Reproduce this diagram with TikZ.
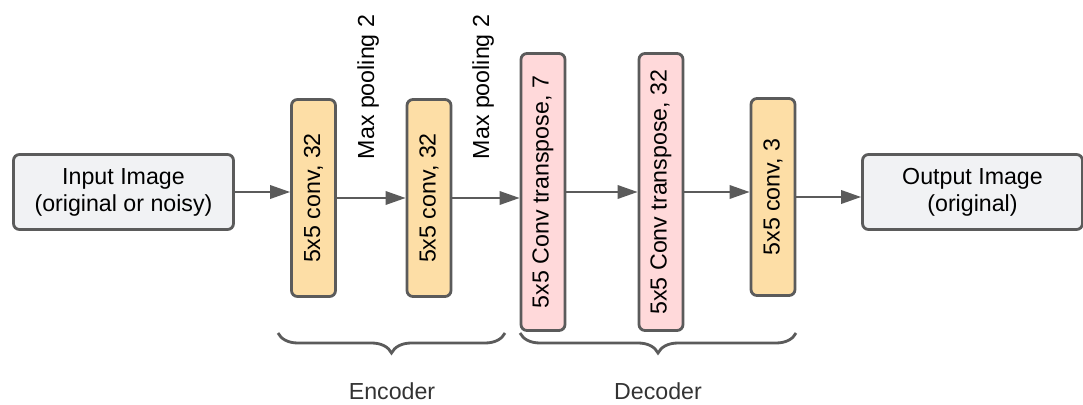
\documentclass[tikz,border=0pt]{standalone}
\usepackage{fontspec}
\setmainfont{Liberation Sans}
\usetikzlibrary{positioning,arrows.meta}
\usetikzlibrary{decorations.pathreplacing}
\usepackage{xcolor}
\definecolor{boxgray}{HTML}{F1F2F4}
\definecolor{edgegray}{HTML}{5B5B5B}
\definecolor{convorange}{HTML}{FDDEA6}
\definecolor{transpink}{HTML}{FFD9DA}

\begin{document}
\begin{tikzpicture}
	\useasboundingbox (0,0) rectangle (21.66,8.08);
	\tikzstyle{every node}=[font=\fontsize{13.2}{15.4}\selectfont]
	\tikzstyle{imgbox}=[draw=edgegray, line width=1.6pt, rounded corners=0.12cm, fill=boxgray, align=center, minimum width=4.4cm, minimum height=1.5cm]
	\tikzstyle{conv}=[draw=edgegray, line width=1.6pt, rounded corners=0.12cm, fill=convorange, minimum width=0.88cm, minimum height=3.94cm]
	\tikzstyle{convt}=[conv, fill=transpink, minimum height=5.54cm]
	\tikzstyle{flow}=[draw=edgegray, line width=1.1pt, -{Triangle[length=0.4cm,width=0.27cm]}]
	\tikzstyle{curly}=[draw=edgegray, line width=1.6pt, decorate, decoration={brace, mirror, amplitude=0.4cm}]
	% layers, left to right
	\draw (2.47,4.24) node (input) [imgbox] {Input Image\\(original or noisy)};
	\draw (6.27,4.12) node (c1) [conv] {\rotatebox{90}{5x5 conv, 32}};
	\draw (8.58,4.12) node (c2) [conv] {\rotatebox{90}{5x5 conv, 32}};
	\draw (10.86,4.24) node (t1) [convt] {\rotatebox{90}{5x5 Conv transpose, 7}};
	\draw (13.22,4.24) node (t2) [convt] {\rotatebox{90}{5x5 Conv transpose, 32}};
	\draw (15.46,4.14) node (c3) [conv] {\rotatebox{90}{5x5 conv, 3}};
	\draw (19.45,4.24) node (output) [imgbox] {Output Image\\(original)};
	% pooling notes
	\draw (7.36,6.34) node (pool1) [rotate=90] {Max pooling 2};
	\draw (9.66,6.34) node (pool2) [rotate=90] {Max pooling 2};
	% connections
	\draw [flow] (input) -- (input -| c1.west);
	\draw [flow] (c1) -- (c1 -| c2.west);
	\draw [flow] (c2) -- (c2 -| t1.west);
	\draw [flow] (t1) -- (t1 -| t2.west);
	\draw [flow] (t2) -- (t2 -| c3.west);
	\draw [flow] (c3) -- (c3 -| output.west);
	% encoder / decoder groups
	\coordinate (encl) at (5.56,1.42);
	\coordinate (encr) at (10.10,1.42);
	\coordinate (decl) at (10.40,1.42);
	\coordinate (decr) at (15.92,1.42);
	\draw [curly] (encl) -- (encr);
	\draw [curly] (decl) -- (decr);
	\draw (7.84,0.25) node (enc) [text=black!80] {Encoder};
	\draw (13.16,0.25) node (dec) [text=black!80] {Decoder};
\end{tikzpicture}
\end{document}
